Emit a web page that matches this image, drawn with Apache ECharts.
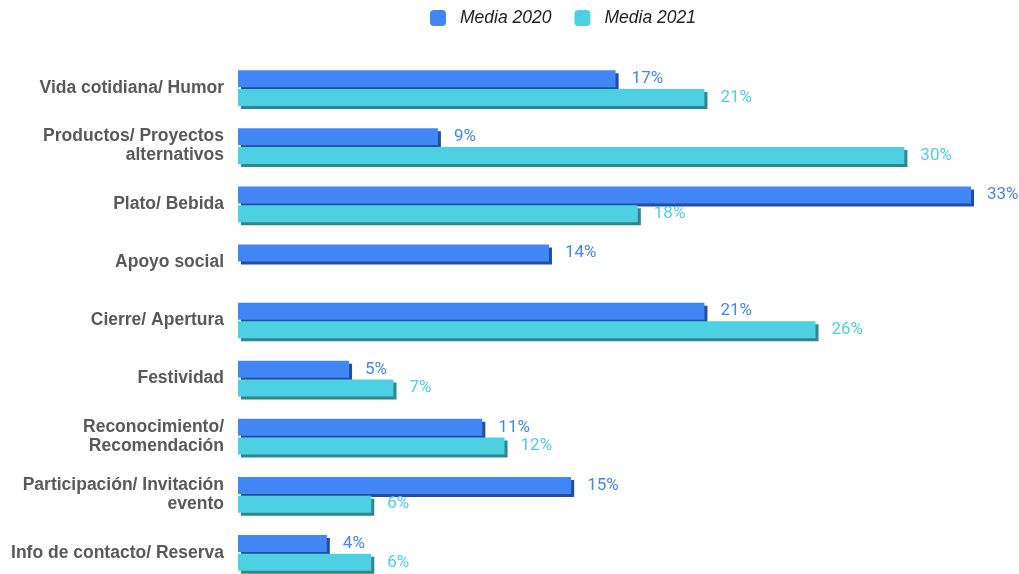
<!DOCTYPE html>
<html><head><meta charset="utf-8">
<script src="https://cdn.jsdelivr.net/npm/echarts@6/dist/echarts.min.js"></script>
<style>html,body{margin:0;padding:0;background:#fff;overflow:hidden}#c{width:1019px;height:582px}</style>
</head><body><div id="c"></div>
<script>
var categories = ["Vida cotidiana/ Humor","Productos/ Proyectos\nalternativos","Plato/ Bebida","Apoyo social","Cierre/ Apertura","Festividad","Reconocimiento/\nRecomendación","Participación/ Invitación\nevento","Info de contacto/ Reserva"];
var media2020 = [17, 9, 33, 14, 21, 5, 11, 15, 4];
var media2021 = [21, 30, 18, null, 26, 7, 12, 6, 6];
var seriesNames = ["Media 2020", "Media 2021"];

var chart = echarts.init(document.getElementById('c'));
function mk(name, data, color, shadow) {
  return {
    name: name, type: 'bar', data: data,
    barWidth: 17, barGap: '10%',
    itemStyle: { color: color,
      shadowColor: shadow, shadowOffsetX: 3, shadowOffsetY: 3, shadowBlur: 0 },
    label: { show: true, position: 'right', distance: 16, color: color,
      fontFamily: 'Roboto', fontSize: 17, formatter: function(p){ return p.value + '%'; } }
  };
}
chart.setOption({
  animation: false,
  legend: { top: 4, left: 425, itemWidth: 16, itemHeight: 16, itemGap: 23,
    icon: 'roundRect',
    textStyle: { fontFamily: 'Liberation Sans', fontStyle: 'italic', fontSize: 17.5, color: '#222', padding: [0,0,0,9] },
    data: seriesNames },
  grid: { left: 238, right: 48, top: 59, bottom: 0, containLabel: false },
  xAxis: { type: 'value', min: 0, max: 33, show: false },
  yAxis: { type: 'category', data: categories, inverse: true,
    axisLine: { show: false }, axisTick: { show: false },
    axisLabel: { fontFamily: 'Liberation Sans', fontWeight: 'bold', fontSize: 17.5, color: '#595959',
      margin: 14, align: 'right', lineHeight: 19 } },
  series: [
    mk(seriesNames[0], media2020, '#4285f4', '#1f4fa3'),
    mk(seriesNames[1], media2021, '#4dd0e1', '#2b8790')
  ]
});
</script></body></html>
